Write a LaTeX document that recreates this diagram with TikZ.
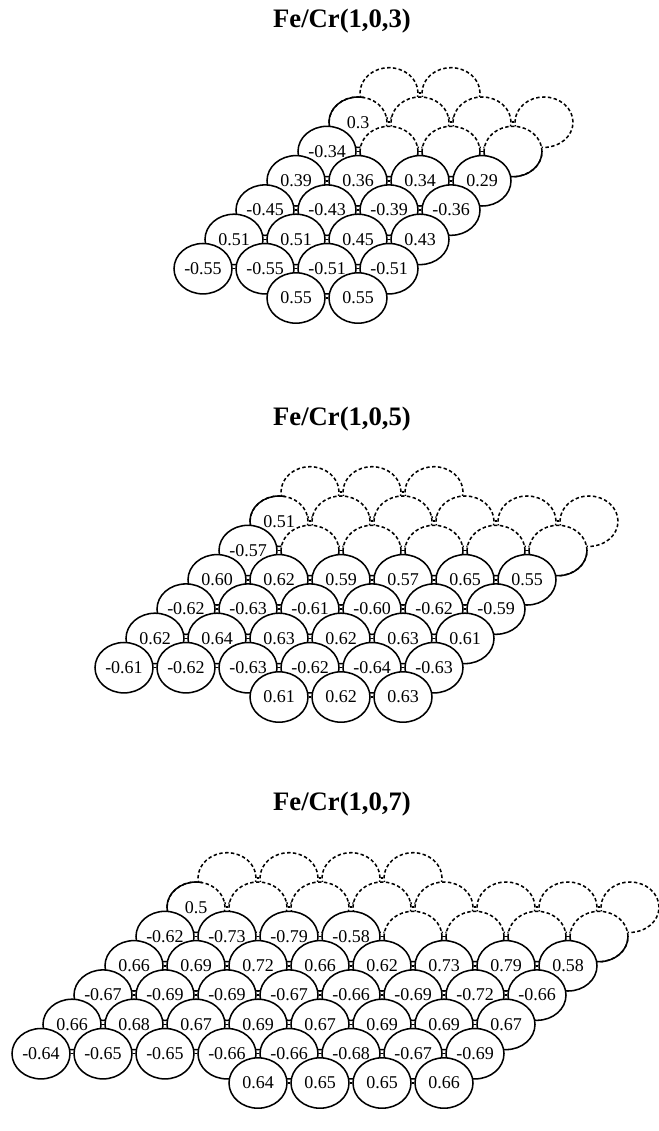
\documentclass[tikz,border=0pt]{standalone}
\usepackage{fontspec}
\setmainfont{Liberation Serif}
\usetikzlibrary{shapes.geometric,calc}

\tikzset{
  atom/.style={ellipse, draw, fill=white, line width=1.15pt,
    minimum width=43.5pt, minimum height=37.8pt, inner sep=0pt,
    font=\fontsize{13.5}{15}\selectfont},
  ghost/.style={atom, dash pattern=on 2.6pt off 1.8pt},
  rim/.style={ellipse, draw, line width=1.15pt,
    minimum width=43.5pt, minimum height=37.8pt, inner sep=0pt},
  bond/.style={line width=1.15pt},
  title/.style={font=\bfseries\fontsize{20}{23}\selectfont}
}

% a row of sites: prefix, row, first column, x0, y0, style, moments
\newcommand\siterow[7]{%
  \foreach \v [count=\i from #3] in {#7} {%
    \node[#6] (#1r#2c\i) at ({#4+62*\i+31*#2},{#5-29.3*#2}) {\v};
    \ifnum\i>#3 \pgfmathtruncatemacro\j{\i-1}%
      \draw[bond] (#1r#2c\j.east) -- (#1r#2c\i.west);\fi
  }}
% solid outline on the lower half of a washed-out site
\newcommand\lowersolid[1]{%
  \begin{scope}
    \clip ($(#1)+(-35,0)$) rectangle ($(#1)+(35,35)$);
    \node[rim] at (#1) {};
  \end{scope}}
% solid outline on the left part of a washed-out site
\newcommand\leftsolid[1]{%
  \begin{scope}
    \clip ($(#1)+(-35,-35)$) rectangle ($(#1)+(6,35)$);
    \node[rim] at (#1) {};
  \end{scope}}

\begin{document}
\begin{tikzpicture}[x=0.75pt, y=-0.75pt]
  \fill[white] (0,0) rectangle (658,1131);
  \useasboundingbox (0,0) rectangle (658,1131);

  % ---------------- Fe/Cr(1,0,3) ----------------
  \node[title] (t1) at (342,21) {Fe/Cr(1,0,3)};
  \siterow{a}{7}{0}{172}{298}{ghost}{{},{}}
  \siterow{a}{6}{0}{172}{298}{ghost}{0.3,{},{},{}}
  \leftsolid{ar6c0}
  \siterow{a}{5}{1}{172}{298}{ghost}{{},{},{}}
  \foreach \n in {ar5c1,ar5c2,ar5c3} {\lowersolid{\n}}
  \siterow{a}{5}{0}{172}{298}{atom}{-0.34}
  \draw[bond] (ar5c0.east) -- (ar5c1.west);
  \siterow{a}{4}{0}{172}{298}{atom}{0.39,0.36,0.34,0.29}
  \siterow{a}{3}{0}{172}{298}{atom}{-0.45,-0.43,-0.39,-0.36}
  \siterow{a}{2}{0}{172}{298}{atom}{0.51,0.51,0.45,0.43}
  \siterow{a}{1}{0}{172}{298}{atom}{-0.55,-0.55,-0.51,-0.51}
  \siterow{a}{0}{2}{172}{298}{atom}{0.55,0.55}

  % ---------------- Fe/Cr(1,0,5) ----------------
  \node[title] (t2) at (342,419) {Fe/Cr(1,0,5)};
  \siterow{b}{7}{0}{93}{697}{ghost}{{},{},{}}
  \siterow{b}{6}{0}{93}{697}{ghost}{0.51,{},{},{},{},{}}
  \leftsolid{br6c0}
  \siterow{b}{5}{1}{93}{697}{ghost}{{},{},{},{},{}}
  \foreach \n in {br5c1,br5c2,br5c3,br5c4,br5c5} {\lowersolid{\n}}
  \siterow{b}{5}{0}{93}{697}{atom}{-0.57}
  \draw[bond] (br5c0.east) -- (br5c1.west);
  \siterow{b}{4}{0}{93}{697}{atom}{0.60,0.62,0.59,0.57,0.65,0.55}
  \siterow{b}{3}{0}{93}{697}{atom}{-0.62,-0.63,-0.61,-0.60,-0.62,-0.59}
  \siterow{b}{2}{0}{93}{697}{atom}{0.62,0.64,0.63,0.62,0.63,0.61}
  \siterow{b}{1}{0}{93}{697}{atom}{-0.61,-0.62,-0.63,-0.62,-0.64,-0.63}
  \siterow{b}{0}{3}{93}{697}{atom}{0.61,0.62,0.63}

  % ---------------- Fe/Cr(1,0,7) ----------------
  \node[title] (t3) at (342,804) {Fe/Cr(1,0,7)};
  \siterow{c}{7}{0}{10}{1083}{ghost}{{},{},{},{}}
  \siterow{c}{6}{0}{10}{1083}{ghost}{0.5,{},{},{},{},{},{},{}}
  \leftsolid{cr6c0}
  \siterow{c}{5}{4}{10}{1083}{ghost}{{},{},{},{}}
  \foreach \n in {cr5c4,cr5c5,cr5c6,cr5c7} {\lowersolid{\n}}
  \siterow{c}{5}{0}{10}{1083}{atom}{-0.62,-0.73,-0.79,-0.58}
  \draw[bond] (cr5c3.east) -- (cr5c4.west);
  \siterow{c}{4}{0}{10}{1083}{atom}{0.66,0.69,0.72,0.66,0.62,0.73,0.79,0.58}
  \siterow{c}{3}{0}{10}{1083}{atom}{-0.67,-0.69,-0.69,-0.67,-0.66,-0.69,-0.72,-0.66}
  \siterow{c}{2}{0}{10}{1083}{atom}{0.66,0.68,0.67,0.69,0.67,0.69,0.69,0.67}
  \siterow{c}{1}{0}{10}{1083}{atom}{-0.64,-0.65,-0.65,-0.66,-0.66,-0.68,-0.67,-0.69}
  \siterow{c}{0}{4}{10}{1083}{atom}{0.64,0.65,0.65,0.66}
\end{tikzpicture}
\end{document}
